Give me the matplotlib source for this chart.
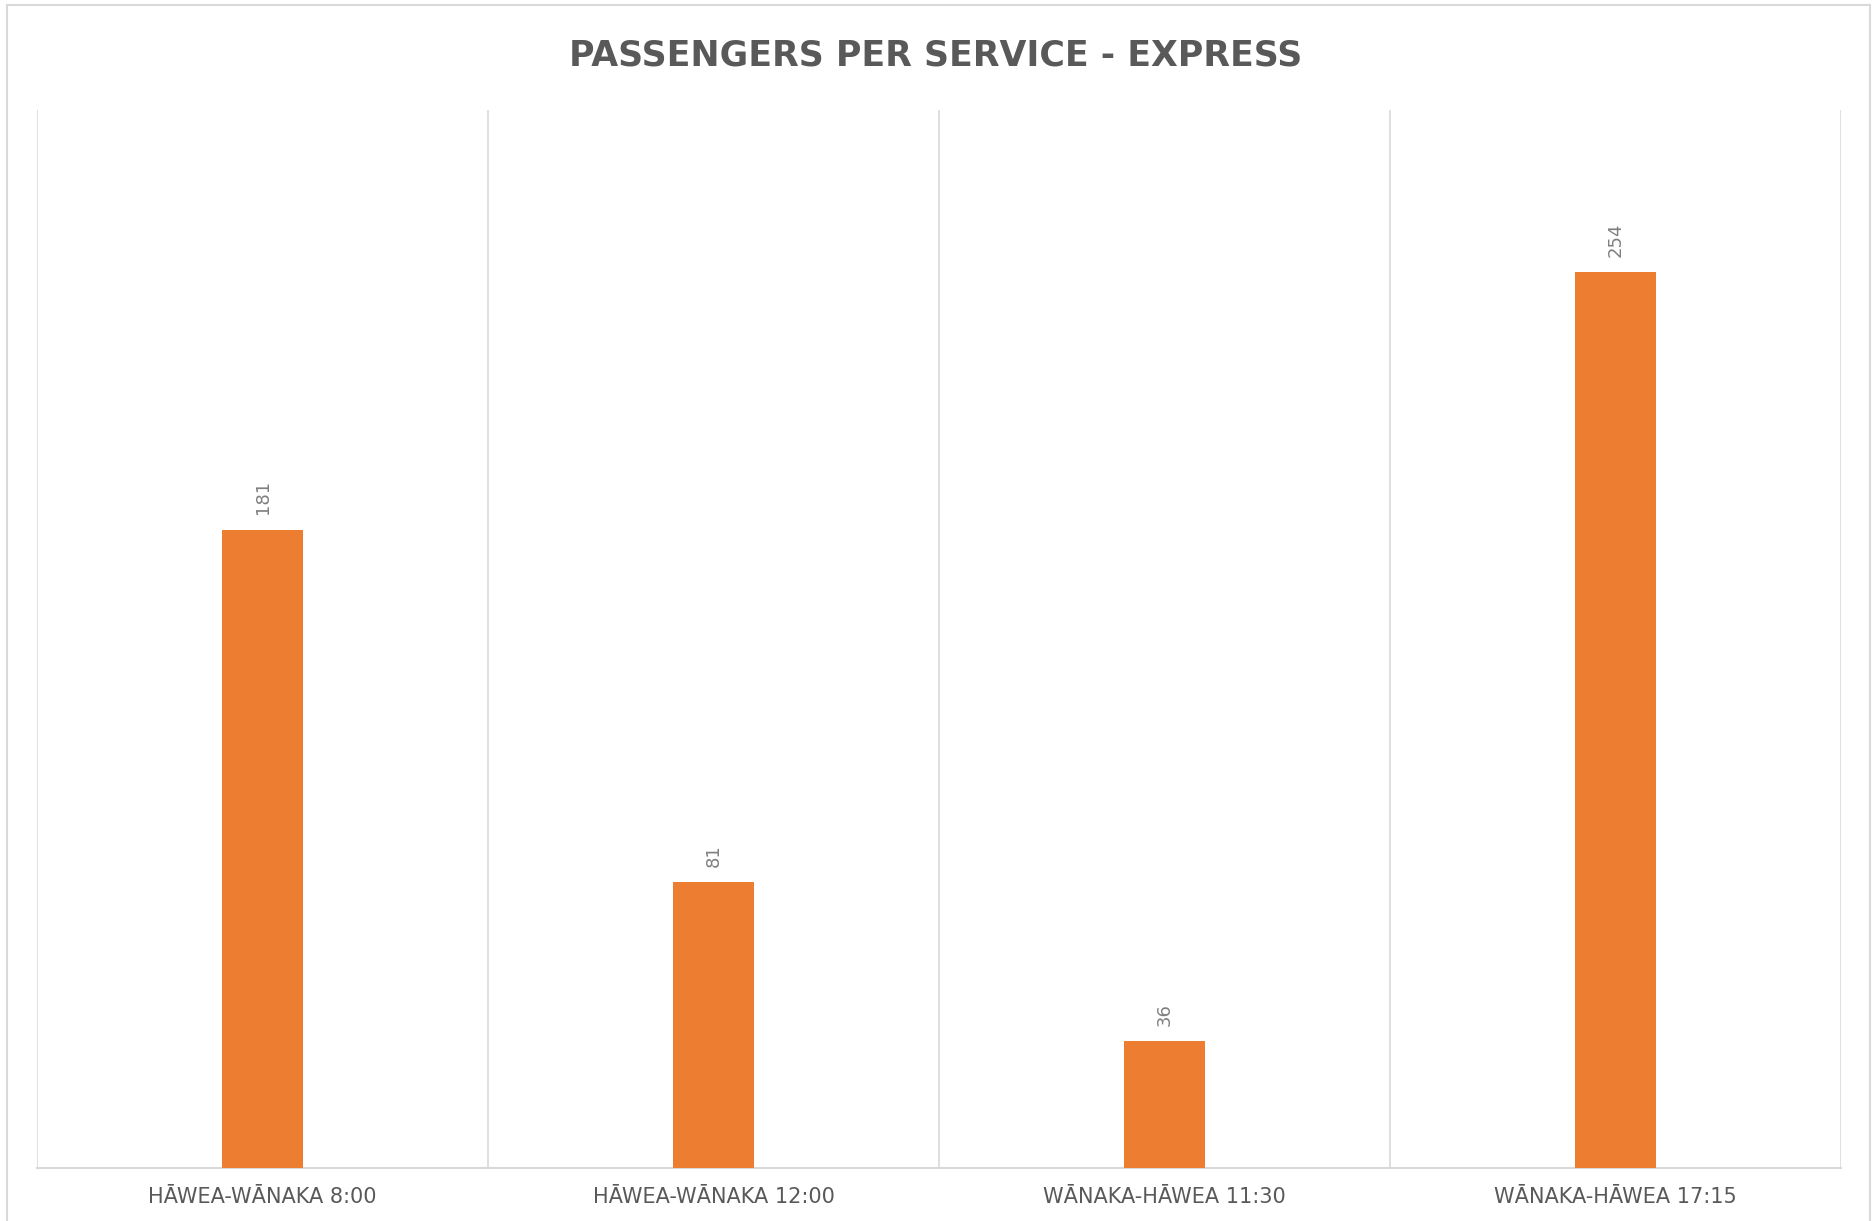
import matplotlib.pyplot as plt
from matplotlib.patches import Rectangle

# Express service passenger counts
services = ['HĀWEA-WĀNAKA 8:00', 'HĀWEA-WĀNAKA 12:00',
            'WĀNAKA-HĀWEA 11:30', 'WĀNAKA-HĀWEA 17:15']
passengers = [181, 81, 36, 254]

W, H = 1872, 1221
plt.rcParams['font.family'] = ['DejaVu Sans']

fig = plt.figure(figsize=(W / 100, H / 100), dpi=100)

# outer chart border
fig.patches.append(Rectangle((7 / W, -0.02), (1870 - 7) / W, 1 - 5 / H + 0.02,
                             transform=fig.transFigure, fill=False,
                             edgecolor='#d9d9d9', linewidth=1.5))

ax = fig.add_axes([37 / W, 1 - 1168 / H, (1841 - 37) / W, (1168 - 110) / H])

x = list(range(len(services)))
ax.bar(x, passengers, width=0.18, color='#ED7D31', zorder=3)

for xi, v in zip(x, passengers):
    ax.annotate(str(v), (xi, v), xytext=(0, 11), textcoords='offset points',
                rotation=90, ha='center', va='bottom', fontsize=13,
                color='#7f7f7f')

ax.set_xlim(-0.5, len(services) - 0.5)
ax.set_ylim(0, 300)

# vertical separators between categories
for b in [i - 0.5 for i in range(len(services) + 1)]:
    ax.axvline(b, color='#d9d9d9', linewidth=1.2, zorder=1)

for s in ['top', 'right', 'left']:
    ax.spines[s].set_visible(False)
ax.spines['bottom'].set_color('#d9d9d9')
ax.spines['bottom'].set_linewidth(1.5)

ax.set_yticks([])
ax.set_xticks(x)
ax.set_xticklabels(services, fontsize=15, color='#595959')
ax.tick_params(axis='x', length=0, pad=14)

fig.text(0.5, 1 - 55 / H, 'PASSENGERS PER SERVICE - EXPRESS', ha='center',
         va='center', fontsize=25, fontweight='bold', color='#595959')

fig.savefig('out.png', dpi=100)
